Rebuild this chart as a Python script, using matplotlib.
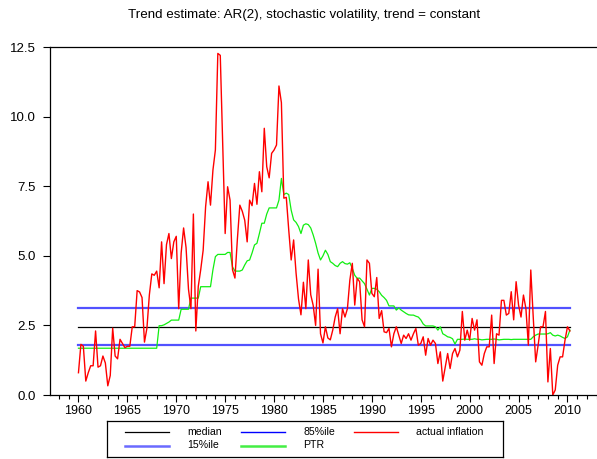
import matplotlib
matplotlib.use('Agg')
import matplotlib.pyplot as plt
import numpy as np
from matplotlib.ticker import MultipleLocator, FormatStrFormatter

plt.rcParams['font.family'] = ['Liberation Sans', 'DejaVu Sans']

# quarterly inflation, 1960Q1 .. 2010Q2 (four values per year)
inflation = [
    0.8, 1.82, 1.75, 0.5,      # 1960
    0.8, 1.05, 1.05, 2.3,      # 1961
    1.0, 1.05, 1.4, 1.15,      # 1962
    0.33, 0.7, 2.4, 1.4,       # 1963
    1.3, 2.0, 1.85, 1.7,       # 1964
    1.75, 1.75, 2.45, 2.45,    # 1965
    3.75, 3.7, 3.5, 1.9,       # 1966
    2.4, 3.6, 4.35, 4.3,       # 1967
    4.45, 3.85, 5.5, 4.0,      # 1968
    5.4, 5.8, 4.9, 5.5,        # 1969
    5.7, 3.1, 5.1, 6.0,        # 1970
    5.3, 3.8, 3.1, 6.5,        # 1971
    2.3, 3.9, 4.5, 5.2,        # 1972
    6.76, 7.66, 6.82, 8.08,    # 1973
    8.8, 12.27, 12.2, 9.05,    # 1974
    5.8, 7.48, 7.0, 4.5,       # 1975
    4.2, 5.6, 6.82, 6.6,       # 1976
    6.28, 5.5, 7.0, 6.8,       # 1977
    7.6, 6.85, 8.02, 7.3,      # 1978
    9.58, 8.2, 7.8, 8.68,      # 1979
    8.8, 8.98, 11.1, 10.5,     # 1980
    7.07, 7.1, 5.93, 4.85,     # 1981
    5.57, 4.38, 3.45, 2.88,    # 1982
    4.05, 3.1, 4.85, 3.6,      # 1983
    3.22, 2.5, 4.52, 2.2,      # 1984
    1.87, 2.45, 2.05, 1.98,    # 1985
    2.33, 2.8, 3.1, 2.2,       # 1986
    3.1, 2.8, 3.1, 4.13,       # 1987
    4.73, 3.23, 4.19, 4.07,    # 1988
    2.7, 2.45, 4.85, 4.73,     # 1989
    3.65, 3.53, 4.22, 2.75,    # 1990
    3.03, 2.27, 2.24, 2.39,    # 1991
    1.73, 2.2, 2.45, 2.15,     # 1992
    1.85, 2.15, 2.03, 2.2,     # 1993
    1.97, 2.2, 2.39, 1.79,     # 1994
    1.85, 2.09, 1.43, 2.03,    # 1995
    1.79, 1.97, 1.85, 1.13,    # 1996
    1.55, 0.5, 1.0, 1.49,      # 1997
    0.95, 1.49, 1.67, 1.37,    # 1998
    1.61, 3.0, 1.97, 2.33,     # 1999
    1.97, 2.75, 2.33, 2.7,     # 2000
    1.19, 1.07, 1.49, 1.73,    # 2001
    1.73, 2.87, 1.13, 2.2,     # 2002
    2.15, 3.4, 3.4, 2.87,      # 2003
    2.93, 3.71, 2.7, 4.07,     # 2004
    3.23, 2.8, 3.59, 3.11,     # 2005
    1.79, 4.49, 2.8, 1.19,     # 2006
    1.79, 2.45, 2.45, 3.0,     # 2007
    0.47, 1.67, 0.0, 0.18,     # 2008
    1.07, 1.37, 1.37, 1.97,    # 2009
    2.45, 2.3,                 # 2010
]

# posterior trend (PTR)
ptr = [
    1.68, 1.68, 1.68, 1.68,    # 1960
    1.68, 1.68, 1.68, 1.68,    # 1961
    1.68, 1.68, 1.68, 1.68,    # 1962
    1.68, 1.68, 1.68, 1.68,    # 1963
    1.68, 1.68, 1.68, 1.68,    # 1964
    1.68, 1.68, 1.68, 1.68,    # 1965
    1.68, 1.68, 1.68, 1.68,    # 1966
    1.68, 1.68, 1.68, 1.68,    # 1967
    1.68, 2.49, 2.49, 2.52,    # 1968
    2.57, 2.62, 2.69, 2.69,    # 1969
    2.69, 2.69, 3.08, 3.08,    # 1970
    3.08, 3.08, 3.48, 3.48,    # 1971
    3.48, 3.48, 3.89, 3.89,    # 1972
    3.89, 3.89, 3.89, 4.5,     # 1973
    4.97, 5.05, 5.05, 5.05,    # 1974
    5.05, 5.12, 5.12, 4.6,     # 1975
    4.45, 4.45, 4.45, 4.49,    # 1976
    4.67, 4.82, 4.85, 5.1,     # 1977
    5.39, 5.45, 5.8, 6.17,     # 1978
    6.17, 6.5, 6.72, 6.72,     # 1979
    6.72, 6.72, 7.0, 7.78,     # 1980
    7.2, 7.25, 7.2, 6.64,      # 1981
    6.29, 6.2, 6.05, 5.8,      # 1982
    6.1, 6.15, 6.12, 6.0,      # 1983
    5.75, 5.45, 5.1, 4.85,     # 1984
    5.0, 5.2, 5.05, 4.79,      # 1985
    4.73, 4.65, 4.61, 4.73,    # 1986
    4.79, 4.72, 4.7, 4.75,     # 1987
    4.55, 4.3, 4.19, 4.2,      # 1988
    4.1, 4.0, 3.8, 3.59,       # 1989
    3.83, 3.83, 3.8, 3.71,     # 1990
    3.58, 3.5, 3.4, 3.2,       # 1991
    3.2, 3.2, 3.05, 3.13,      # 1992
    3.05, 2.99, 2.93, 2.88,    # 1993
    2.87, 2.87, 2.83, 2.8,     # 1994
    2.7, 2.55, 2.48, 2.48,     # 1995
    2.48, 2.48, 2.45, 2.33,    # 1996
    2.45, 2.2, 2.15, 2.09,     # 1997
    2.07, 2.02, 1.83, 2.0,     # 1998
    2.0, 2.0, 2.01, 2.0,       # 1999
    2.0, 2.0, 2.02, 2.0,       # 2000
    2.0, 1.98, 1.99, 2.0,      # 2001
    2.0, 2.0, 2.01, 2.0,       # 2002
    1.98, 1.99, 2.0, 2.0,      # 2003
    2.0, 1.99, 2.0, 2.0,       # 2004
    2.0, 2.0, 2.0, 2.0,        # 2005
    2.0, 2.0, 2.09, 2.15,      # 2006
    2.19, 2.19, 2.19, 2.19,    # 2007
    2.2, 2.24, 2.15, 2.12,     # 2008
    2.15, 2.12, 2.07, 2.03,    # 2009
    2.09, 2.33,                # 2010
]

median = 2.43
pct15 = 1.80
pct85 = 3.125

dates = 1960 + np.arange(len(inflation)) / 4.0

fig = plt.figure(figsize=(5.97, 4.59), dpi=100)
ax = fig.add_axes([50 / 597, 64 / 459, 547 / 597, 348 / 459])

ax.plot(dates, np.full(len(dates), median), color='black', lw=0.9)
ax.plot(dates, np.full(len(dates), pct85), color='#5252ff', lw=1.6)
ax.plot(dates, np.full(len(dates), pct15), color='#5252ff', lw=1.6)
ax.plot(dates, ptr, color='#11ee11', lw=0.9)
ax.plot(dates, inflation, color='#ff0000', lw=1.0)

ax.set_xlim(1957.09, 2013.02)
ax.set_ylim(0, 12.5)
ax.xaxis.set_major_locator(MultipleLocator(5))
ax.xaxis.set_minor_locator(MultipleLocator(1))
ax.yaxis.set_major_locator(MultipleLocator(2.5))
ax.yaxis.set_major_formatter(FormatStrFormatter('%.1f'))
ax.spines['right'].set_visible(False)
for s in ['left', 'top', 'bottom']:
    ax.spines[s].set_linewidth(0.9)
ax.tick_params(axis='x', which='major', length=5, width=0.8, labelsize=9, pad=2)
ax.tick_params(axis='x', which='minor', length=3, width=0.8)
ax.tick_params(axis='y', length=5, width=0.8, labelsize=9.5, pad=5)

fig.text(304.5 / 597, 1 - 15 / 459,
         'Trend estimate: AR(2), stochastic volatility, trend = constant',
         ha='center', va='center', fontsize=9.6)

# legend box drawn in pixel units
lax = fig.add_axes([107 / 597, 2 / 459, 396 / 597, 36 / 459])
lax.set_xlim(0, 396)
lax.set_ylim(36, 0)
lax.set_xticks([])
lax.set_yticks([])
for s in lax.spines.values():
    s.set_linewidth(0.9)
entries = [
    ('median', 'black', 0.9, 18, 11),
    ('15%ile', '#6a6aff', 1.8, 18, 24.5),
    ('85%ile', '#0000ff', 1.0, 134, 11),
    ('PTR', '#44ee44', 1.8, 134, 24.5),
    ('actual inflation', '#ff0000', 1.0, 247, 11),
]
for label, color, lw, x0, y0 in entries:
    lax.plot([x0, x0 + 44], [y0, y0], color=color, lw=lw)
    lax.text(x0 + 62, y0, label, va='center', ha='left', fontsize=7.6)

fig.savefig('out.png', dpi=100)
